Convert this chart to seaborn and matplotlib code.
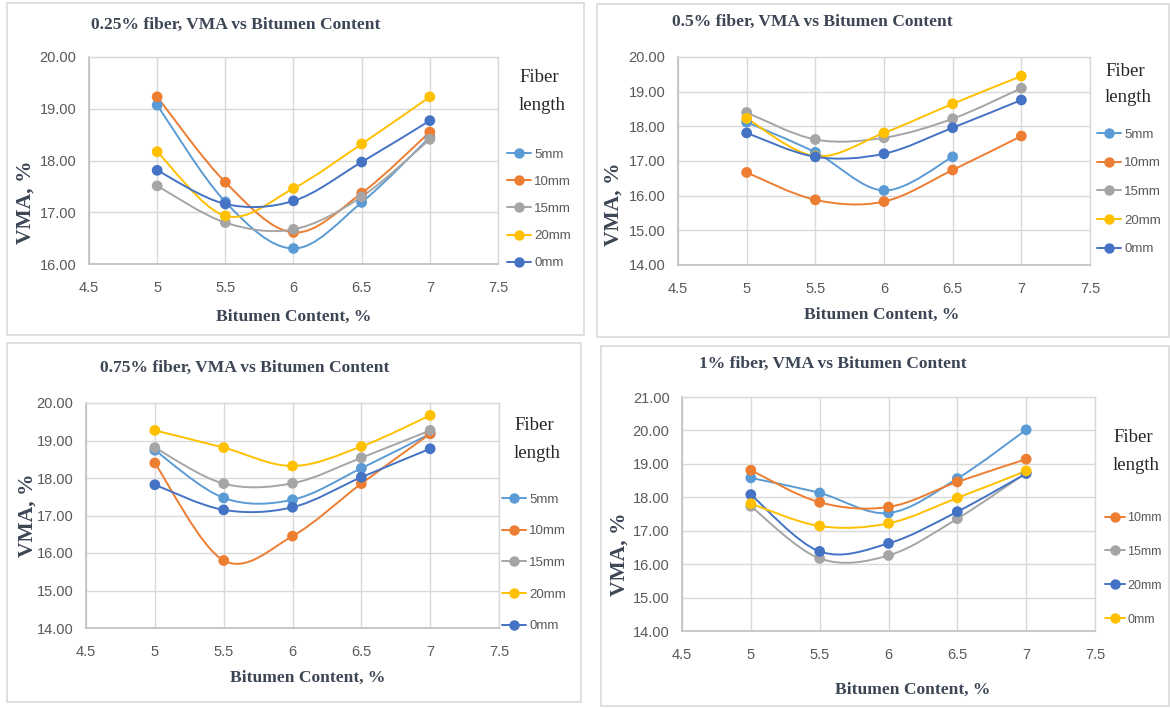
import numpy as np
import pandas as pd
import matplotlib
matplotlib.use("Agg")
import matplotlib.pyplot as plt
import seaborn as sns
from matplotlib.path import Path
from matplotlib.patches import PathPatch, Rectangle
from matplotlib.lines import Line2D

# ---------------- data ----------------
bitumen = [5, 5.5, 6, 6.5, 7]
xticks = [4.5, 5, 5.5, 6, 6.5, 7, 7.5]
nan = np.nan

vma_025 = {
    "5mm":  [19.07, 17.20, 16.30, 17.19, 18.45],
    "10mm": [19.23, 17.58, 16.61, 17.37, 18.55],
    "15mm": [17.51, 16.80, 16.67, 17.30, 18.41],
    "20mm": [18.17, 16.93, 17.46, 18.32, 19.23],
    "0mm":  [17.81, 17.16, 17.22, 17.97, 18.77],
}
vma_05 = {
    "5mm":  [18.12, 17.25, 16.15, 17.12, nan],
    "10mm": [16.67, 15.88, 15.83, 16.74, 17.72],
    "15mm": [18.40, 17.62, 17.67, 18.22, 19.10],
    "20mm": [18.23, 17.14, 17.81, 18.65, 19.45],
    "0mm":  [17.81, 17.12, 17.21, 17.96, 18.76],
}
vma_075 = {
    "5mm":  [18.74, 17.47, 17.42, 18.26, 19.18],
    "10mm": [18.40, 15.80, 16.45, 17.85, 19.18],
    "15mm": [18.81, 17.85, 17.86, 18.54, 19.27],
    "20mm": [19.27, 18.81, 18.32, 18.84, 19.67],
    "0mm":  [17.82, 17.15, 17.22, 18.02, 18.78],
}
vma_1 = {
    "5mm":  [18.58, 18.13, 17.53, 18.56, 20.02],
    "10mm": [18.81, 17.85, 17.71, 18.46, 19.14],
    "15mm": [17.73, 16.17, 16.26, 17.36, 18.73],
    "20mm": [18.08, 16.38, 16.62, 17.57, 18.71],
    "0mm":  [17.81, 17.14, 17.22, 17.98, 18.79],
}
titles = ["0.25% fiber, VMA vs Bitumen Content",
          "0.5% fiber, VMA vs Bitumen Content",
          "0.75% fiber, VMA vs Bitumen Content",
          "1% fiber, VMA vs Bitumen Content"]
yticks_top = [16, 17, 18, 19, 20]
yticks_mid = [14, 15, 16, 17, 18, 19, 20]
yticks_1 = [14, 15, 16, 17, 18, 19, 20, 21]

LBLUE, ORANGE, GRAY, YELLOW, BLUE = "#5B9BD5", "#ED7D31", "#A5A5A5", "#FFC000", "#4472C4"
pal_std = {"5mm": LBLUE, "10mm": ORANGE, "15mm": GRAY, "20mm": YELLOW, "0mm": BLUE}
pal_1 = {"5mm": LBLUE, "10mm": ORANGE, "15mm": GRAY, "20mm": BLUE, "0mm": YELLOW}

# ---------------- style ----------------
sns.set_theme(style="white")
W, H = 1170, 708
fig = plt.figure(figsize=(W / 100, H / 100), dpi=100)
fig.patch.set_facecolor("white")

SERIF = ["Liberation Serif", "DejaVu Serif"]
SANS = ["Liberation Sans", "DejaVu Sans"]
TXT = "#3d4655"
TICK = "#595959"


def fx(x):
    return x / W


def fy(y):
    return 1 - y / H


def smooth_path(xs, ys):
    P = np.array([(x, y) for x, y in zip(xs, ys) if not np.isnan(y)])
    verts = [P[0]]
    codes = [Path.MOVETO]
    n = len(P)
    for i in range(n - 1):
        p0 = P[i - 1] if i > 0 else P[i]
        p1, p2 = P[i], P[i + 1]
        p3 = P[i + 2] if i + 2 < n else P[i + 1]
        verts += [p1 + (p2 - p0) / 6, p2 - (p3 - p1) / 6, p2]
        codes += [Path.CURVE4] * 3
    return Path(verts, codes)


panels = [
    dict(data=vma_025, pal=pal_std, box=(89, 498, 57, 264), yt=yticks_top,
         border=(7, 584, 3, 335), title=(236, 25), ylab=(26, 202), xlab=(294, 317),
         fib=(519, 78, 105), leg=(507, 154, 27.6, 1.85, 9.5),
         labels=["5mm", "10mm", "15mm", "20mm", "0mm"]),
    dict(data=vma_05, pal=pal_std, box=(678, 1090, 57, 265), yt=yticks_mid,
         border=(597, 1169, 4, 337), title=(812, 22), ylab=(614, 204), xlab=(882, 315),
         fib=(1105, 72, 98), leg=(1097, 134, 29.1, 1.85, 9.5),
         labels=["5mm", "10mm", "15mm", "20mm", "0mm"]),
    dict(data=vma_075, pal=pal_std, box=(86, 499, 403, 628), yt=yticks_mid,
         border=(7, 581, 343, 702), title=(245, 368), ylab=(28, 515), xlab=(308, 678),
         fib=(514, 425, 453), leg=(502, 499, 32.1, 1.85, 9.5),
         labels=["5mm", "10mm", "15mm", "20mm", "0mm"]),
    dict(data=vma_1, pal=pal_1, box=(682, 1095, 397, 631), yt=yticks_1,
         border=(601, 1169, 346, 706), title=(833, 364), ylab=(620, 554), xlab=(913, 690),
         fib=(1113, 438, 466), leg=(1105, 517, 33.9, 1.6, 9.0),
         labels=["10mm", "15mm", "20mm", "0mm"]),
]

for i, p in enumerate(panels):
    # panel border
    bl, br, bt, bb = p["border"]
    fig.add_artist(Rectangle((fx(bl), fy(bb)), fx(br - bl), (bb - bt) / H,
                             transform=fig.transFigure, fill=False,
                             edgecolor="#dcdcdc", lw=1.3, zorder=0))
    l, r, t, b = p["box"]
    ax = fig.add_axes([fx(l), fy(b), fx(r - l), (b - t) / H])
    ax.set_facecolor("white")

    rows = []
    for name, vals in p["data"].items():
        for x, y in zip(bitumen, vals):
            rows.append((name, x, y))
    df = pd.DataFrame(rows, columns=["fiber", "bitumen", "vma"]).dropna()

    for name, vals in p["data"].items():
        ax.add_patch(PathPatch(smooth_path(bitumen, vals), fill=False,
                               edgecolor=p["pal"][name], lw=1.4, zorder=3,
                               capstyle="round", joinstyle="round"))
    sns.scatterplot(data=df, x="bitumen", y="vma", hue="fiber", palette=p["pal"],
                    hue_order=list(p["data"].keys()), s=60, linewidth=0,
                    legend=False, ax=ax, zorder=4)

    yt = p["yt"]
    ax.set_xlim(4.5, 7.5)
    ax.set_ylim(yt[0], yt[-1])
    ax.set_xticks(xticks)
    ax.set_xticklabels([f"{v:g}" for v in xticks])
    ax.set_yticks(yt)
    ax.set_yticklabels([f"{v:.2f}" for v in yt])
    ax.grid(True, color="#d9d9d9", lw=1.0)
    ax.set_axisbelow(True)
    for s in ["top", "right"]:
        ax.spines[s].set_color("#d9d9d9")
        ax.spines[s].set_linewidth(1.0)
    for s in ["left", "bottom"]:
        ax.spines[s].set_color("#bfbfbf")
        ax.spines[s].set_linewidth(1.2)
    ax.tick_params(axis="both", length=0, colors=TICK, labelsize=10.5)
    ax.tick_params(axis="y", pad=9)
    ax.tick_params(axis="x", pad=12)
    for lab in ax.get_xticklabels() + ax.get_yticklabels():
        lab.set_family(SANS)
    ax.set_xlabel("")
    ax.set_ylabel("")

    # texts
    tx, ty = p["title"]
    fig.text(fx(tx), fy(ty), titles[i], ha="center", va="center",
             family=SERIF, weight="bold", size=12.6, color=TXT)
    x0, y0 = p["ylab"]
    fig.text(fx(x0), fy(y0), "VMA, %", ha="center", va="center", rotation=90,
             family=SERIF, weight="bold", size=15.5, color=TXT)
    x0, y0 = p["xlab"]
    fig.text(fx(x0), fy(y0), "Bitumen Content, %", ha="center", va="center",
             family=SERIF, weight="bold", size=12.6, color=TXT)
    fxp, fy1, fy2 = p["fib"]
    fig.text(fx(fxp), fy(fy1), "Fiber", ha="left", va="center",
             family=SERIF, size=13.5, color="#262626")
    fig.text(fx(fxp), fy(fy2), "length", ha="left", va="center",
             family=SERIF, size=13.5, color="#262626")

    # legend
    lx, ly, pitch, hl, fs = p["leg"]
    fs_px = fs * 100 / 72
    rowh = 0.964 * fs_px
    handles = [Line2D([], [], color=p["pal"][n], lw=1.4, marker="o",
                      markersize=7.5, markeredgewidth=0) for n in p["labels"]]
    leg = ax.legend(handles, p["labels"], loc="upper left",
                    bbox_to_anchor=(fx(lx), fy(ly - rowh / 2 + 1.0)),
                    bbox_transform=fig.transFigure, frameon=False,
                    borderpad=0, borderaxespad=0, handlelength=hl,
                    handletextpad=0.2, labelspacing=(pitch - rowh) / fs_px,
                    prop={"family": SANS, "size": fs})
    for tx_ in leg.get_texts():
        tx_.set_color(TICK)

fig.savefig("out.png", dpi=100, facecolor="white")
